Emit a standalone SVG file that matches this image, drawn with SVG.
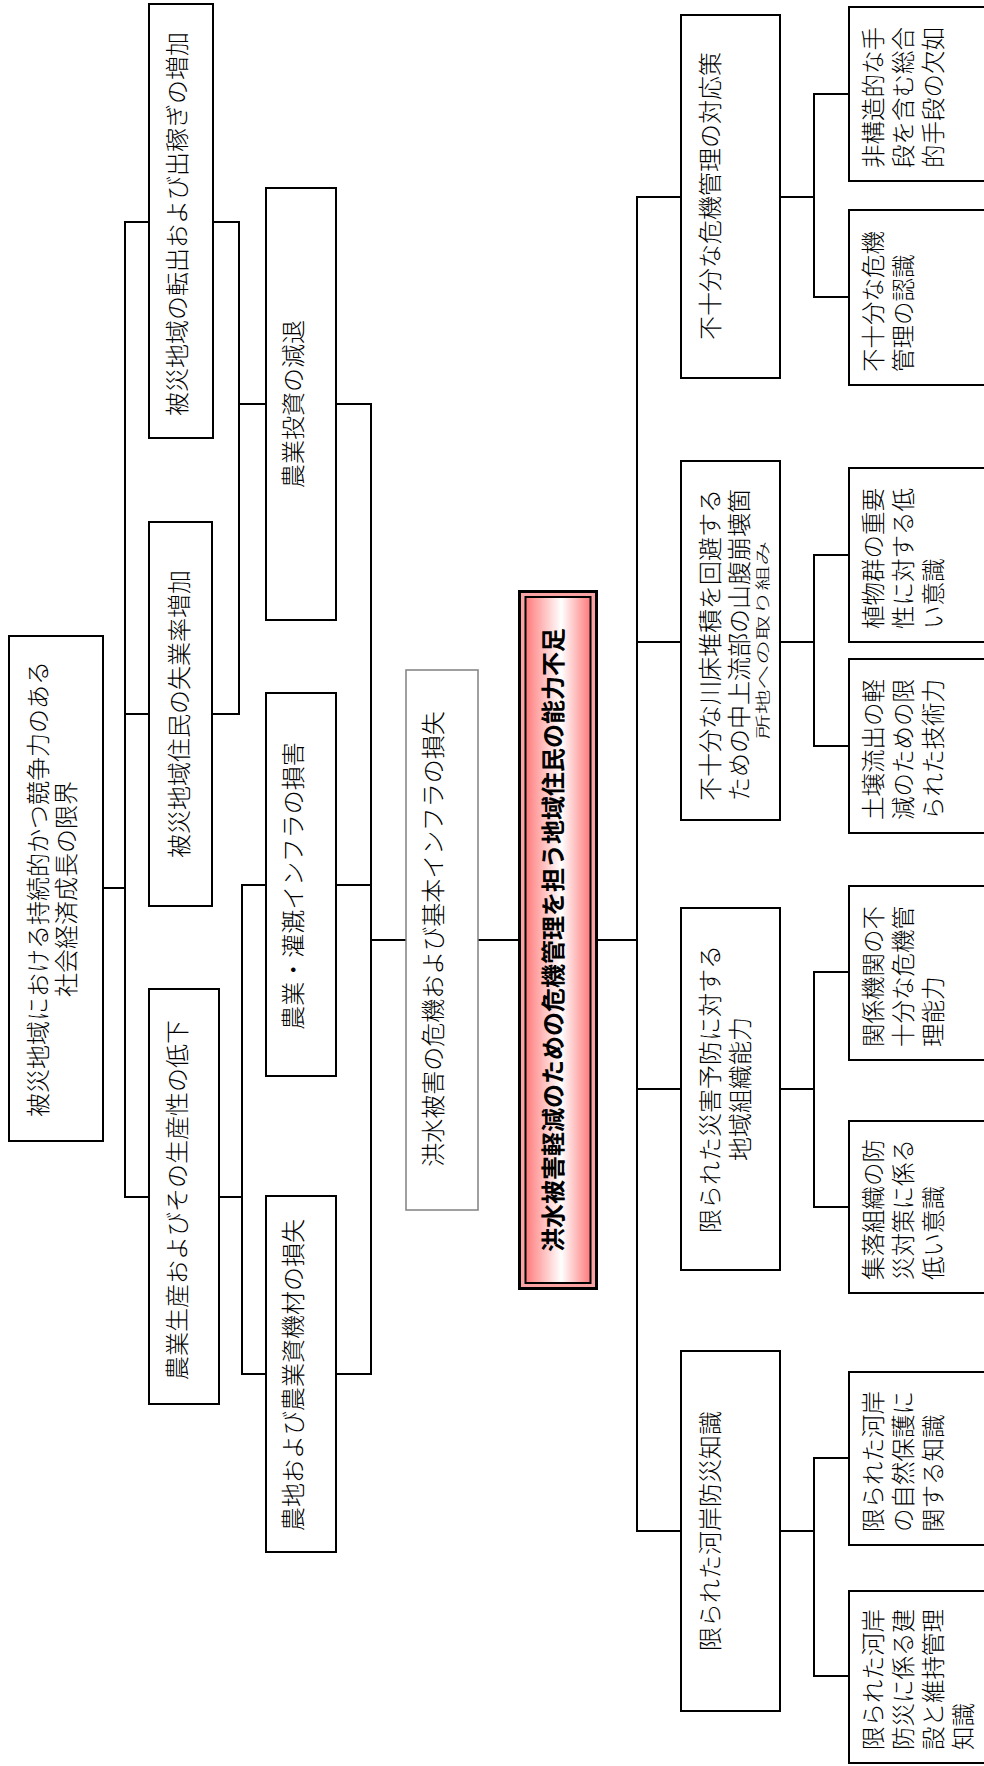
<svg xmlns="http://www.w3.org/2000/svg" width="984" height="1766" viewBox="0 0 984 1766">
<style>
.box{fill:#fff;stroke:#000;stroke-width:2}
.gbox{fill:#fff;stroke:#808080;stroke-width:1.5}
.ln{stroke:#000;stroke-width:2;fill:none;stroke-linecap:square}
.t{font-family:"Noto Sans CJK JP","Noto Sans CJK SC",sans-serif;font-size:24px;font-weight:300;fill:#000;dominant-baseline:central}
.s{font-size:23.5px}
.sm{font-size:15px}
.m{text-anchor:middle}
.b{font-weight:bold}
</style>
<defs>
<linearGradient id="pg" x1="0" y1="0" x2="1" y2="0">
<stop offset="0" stop-color="#ff7a7a"/>
<stop offset="0.55" stop-color="#ffffff"/>
<stop offset="1" stop-color="#ff7a7a"/>
</linearGradient>
</defs>
<rect width="984" height="1766" fill="#fff"/>
<g id="connectors">
<path class="ln" d="M125,222H149M213,222H239M125,714H149M212,714H239M239,222V714M239,404H266M336,404H371M125,222V1197M103,888H125M125,1197H149M219,1197H242M242,885V1374M242,885H266M336,885H371M242,1374H266M336,1374H371M371,404V1374M371,940H406M478,940H519"/>
<path class="ln" d="M596,940H637M637,197V1531M637,197H681M780,197H814M814,94V297M814,94H849M814,297H849M637,642H681M780,642H814M814,555V746M814,555H849M814,746H849M637,1089H681M780,1089H814M814,972V1207M814,972H849M814,1207H849M637,1531H681M780,1531H814M814,1458V1676M814,1458H849M814,1676H849"/>
</g>
<g id="n_tenshutsu"><rect class="box" x="149" y="4" width="64" height="434"/><text class="t m" transform="translate(175,224) rotate(-90)">被災地域の転出および出稼ぎの増加</text></g>
<g id="n_shitsugyo"><rect class="box" x="149" y="522" width="63" height="384"/><text class="t m" transform="translate(177,714) rotate(-90)">被災地域住民の失業率増加</text></g>
<g id="n_seisan"><rect class="box" x="149" y="989" width="70" height="415"/><text class="t m" transform="translate(175,1200) rotate(-90)">農業生産およびその生産性の低下</text></g>
<g id="n_toshi"><rect class="box" x="266" y="188" width="70" height="432"/><text class="t m" transform="translate(291,404) rotate(-90)">農業投資の減退</text></g>
<g id="n_kangai"><rect class="box" x="266" y="693" width="70" height="383"/><text class="t m" transform="translate(291,886) rotate(-90)">農業・灌漑インフラの損害</text></g>
<g id="n_nochi"><rect class="box" x="266" y="1196" width="70" height="356"/><text class="t m" transform="translate(291,1375) rotate(-90)">農地および農業資機材の損失</text></g>
<g id="n_seicho"><rect class="box" x="9" y="636" width="94" height="505"/><text class="t m" transform="translate(36,889) rotate(-90)"><tspan x="0" y="0">被災地域における持続的かつ競争力のある</tspan><tspan x="0" y="28">社会経済成長の限界</tspan></text></g>
<g id="n_kiki"><rect class="gbox" x="406" y="670" width="72" height="540"/><text class="t m" transform="translate(431,939) rotate(-90)">洪水被害の危機および基本インフラの損失</text></g>
<g id="n_core"><rect x="519.5" y="591.5" width="77" height="697" fill="#f9a3a3" stroke="#000" stroke-width="3"/><rect x="525.5" y="597" width="65" height="686" fill="url(#pg)" stroke="#000" stroke-width="2"/><text class="t m b" transform="translate(551,940) rotate(-90)">洪水被害軽減のための危機管理を担う地域住民の能力不足</text></g>
<g id="n_taiou"><rect class="box" x="681" y="15" width="99" height="363"/><text class="t m" transform="translate(708,196) rotate(-90)">不十分な危機管理の対応策</text></g>
<g id="n_hikozo"><rect class="box" x="849" y="7" width="145" height="174"/><text class="t s" transform="translate(872,168) rotate(-90)"><tspan x="0" y="0">非構造的な手</tspan><tspan x="0" y="30">段を含む総合</tspan><tspan x="0" y="60">的手段の欠如</tspan></text></g>
<g id="n_ninshiki"><rect class="box" x="849" y="210" width="145" height="175"/><text class="t s" transform="translate(872,372) rotate(-90)"><tspan x="0" y="0">不十分な危機</tspan><tspan x="0" y="30">管理の認識</tspan></text></g>
<g id="n_kawadoko"><rect class="box" x="681" y="461" width="99" height="359"/><text class="t m" transform="translate(708,645) rotate(-90)"><tspan x="0" y="0">不十分な川床堆積を回避する</tspan><tspan x="0" y="29">ための中上流部の山腹崩壊箇</tspan></text><text class="t m sm" transform="translate(761,640) rotate(-90) scale(1.65,1)">所地への取り組み</text></g>
<g id="n_shokubutsu"><rect class="box" x="849" y="468" width="145" height="174"/><text class="t s" transform="translate(872,629) rotate(-90)"><tspan x="0" y="0">植物群の重要</tspan><tspan x="0" y="30">性に対する低</tspan><tspan x="0" y="60">い意識</tspan></text></g>
<g id="n_dojo"><rect class="box" x="849" y="659" width="145" height="174"/><text class="t s" transform="translate(872,820) rotate(-90)"><tspan x="0" y="0">土壌流出の軽</tspan><tspan x="0" y="30">減のための限</tspan><tspan x="0" y="60">られた技術力</tspan></text></g>
<g id="n_soshiki"><rect class="box" x="681" y="908" width="99" height="362"/><text class="t m" transform="translate(708,1089) rotate(-90)"><tspan x="0" y="0">限られた災害予防に対する</tspan><tspan x="0" y="30">地域組織能力</tspan></text></g>
<g id="n_kankei"><rect class="box" x="849" y="886" width="145" height="174"/><text class="t s" transform="translate(872,1047) rotate(-90)"><tspan x="0" y="0">関係機関の不</tspan><tspan x="0" y="30">十分な危機管</tspan><tspan x="0" y="60">理能力</tspan></text></g>
<g id="n_shuraku"><rect class="box" x="849" y="1121" width="145" height="172"/><text class="t s" transform="translate(872,1280) rotate(-90)"><tspan x="0" y="0">集落組織の防</tspan><tspan x="0" y="30">災対策に係る</tspan><tspan x="0" y="60">低い意識</tspan></text></g>
<g id="n_kagan"><rect class="box" x="681" y="1351" width="99" height="360"/><text class="t m" transform="translate(708,1531) rotate(-90)">限られた河岸防災知識</text></g>
<g id="n_shizen"><rect class="box" x="849" y="1372" width="145" height="173"/><text class="t s" transform="translate(872,1532) rotate(-90)"><tspan x="0" y="0">限られた河岸</tspan><tspan x="0" y="30">の自然保護に</tspan><tspan x="0" y="60">関する知識</tspan></text></g>
<g id="n_kensetsu"><rect class="box" x="849" y="1591" width="145" height="172"/><text class="t s" transform="translate(872,1750) rotate(-90)"><tspan x="0" y="0">限られた河岸</tspan><tspan x="0" y="30">防災に係る建</tspan><tspan x="0" y="60">設と維持管理</tspan><tspan x="0" y="90">知識</tspan></text></g>
</svg>
